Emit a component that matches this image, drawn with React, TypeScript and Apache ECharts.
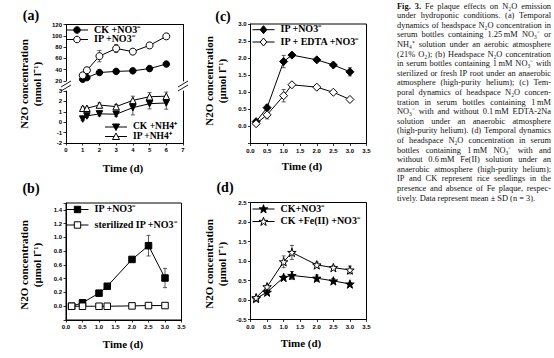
import React, { useEffect, useRef } from 'react';
import * as echarts from 'echarts';

// ---------- data ----------
const timeA = [1, 1.25, 2, 3, 4, 5, 6];
const ckNO3A = [23, 26, 35, 37, 38, 42, 50];
const ckNO3ASd = [2, 2, 2.5, 2, 2, 2, 2];
const ipNO3A = [30, 39, 64, 77.5, 72, 83, 99];
const ipNO3ASd = [3, 5, 10, 7, 5, 5, 5];
const ckNH4A = [0.3, 0.6, 0.8, 0.77, 1.4, 1.78, 1.85];
const ckNH4ASd = [0.15, 0.15, 0.2, 0.2, 0.7, 0.5, 0.6];
const ipNH4A = [1.34, 1.34, 1.65, 1.5, 2.1, 2.45, 2.5];
const ipNH4ASd = [0.15, 0.1, 0.2, 0.2, 0.4, 0.4, 0.4];

const timeBCD = [0.17, 0.5, 1, 1.25, 2, 2.5, 3];
const ipNO3B = [0.0, 0.05, 0.19, 0.29, 0.68, 0.88, 0.41];
const ipNO3BSd = [0.01, 0.02, 0.03, 0.03, 0.03, 0.15, 0.14];
const sterB = [0.0, 0.0, 0.0, 0.0, 0.005, 0.01, 0.01];
const sterBSd = [0.005, 0.005, 0.005, 0.005, 0.005, 0.005, 0.005];
const ipNO3C = [0.14, 0.55, 1.9, 2.09, 1.95, 1.8, 1.6];
const ipNO3CSd = [0.05, 0.08, 0.18, 0.06, 0.05, 0.05, 0.12];
const edtaC = [0.08, 0.34, 0.9, 1.22, 1.15, 1.0, 0.79];
const edtaCSd = [0.05, 0.12, 0.18, 0.05, 0.04, 0.04, 0.04];
const ckNO3D = [0.04, 0.2, 0.58, 0.63, 0.56, 0.49, 0.41];
const ckNO3DSd = [0.03, 0.04, 0.05, 0.1, 0.08, 0.06, 0.04];
const feD = [0.06, 0.34, 0.98, 1.22, 0.9, 0.83, 0.77];
const feDSd = [0.03, 0.04, 0.15, 0.18, 0.07, 0.05, 0.1];

const names = {
  ckNO3A: 'CK +NO3⁻',
  ipNO3A: 'IP +NO3⁻#a',
  ckNH4A: 'CK +NH4⁺',
  ipNH4A: 'IP +NH4⁺',
  ipNO3B: 'IP +NO3⁻#b',
  sterB: 'sterilized IP +NO3⁻',
  ipNO3C: 'IP +NO3⁻#c',
  edtaC: 'IP + EDTA +NO3⁻',
  ckNO3D: 'CK+NO3⁻',
  feD: 'CK +Fe(II) +NO3⁻',
};

const panelLabels = ['(a)', '(b)', '(c)', '(d)'];
const yTitleA = 'N2O concentration\n(nmol l⁻¹)';
const yTitleOther = 'N2O concentration\n(μmol l⁻¹)';
const xTitle = 'Time (d)';

const captionLines = [
  'Fig. 3. Fe plaque effects on N₂O emission',
  'under hydroponic conditions. (a) Temporal',
  'dynamics of headspace N₂O concentration in',
  'serum bottles containing 1.25\u2009mM NO₃⁻ or',
  'NH₄⁺ solution under an aerobic atmosphere',
  '(21% O₂); (b) Headspace N₂O concentration',
  'in serum bottles containing 1\u2009mM NO₃⁻ with',
  'sterilized or fresh IP root under an anaerobic',
  'atmosphere (high-purity helium); (c) Tem-',
  'poral dynamics of headspace N₂O concen-',
  'tration in serum bottles containing 1\u2009mM',
  'NO₃⁻ with and without 0.1\u2009mM EDTA-2Na',
  'solution under an anaerobic atmosphere',
  '(high-purity helium). (d) Temporal dynamics',
  'of headspace N₂O concentration in serum',
  'bottles containing 1\u2009mM NO₃⁻ with and',
  'without 0.6\u2009mM Fe(II) solution under an',
  'anaerobic atmosphere (high-purity helium);',
  'IP and CK represent rice seedlings in the',
  'presence and absence of Fe plaque, respec-',
  'tively. Data represent mean ± SD (n = 3).',
];

// ---------- styles ----------
const SERIF = '"Liberation Serif", "Times New Roman", serif';
const SANS = '"Liberation Sans", Arial, sans-serif';
const STAR = 'path://M50,0 L61.8,35.1 L98.1,35.1 L68.8,56.7 L79.4,91.3 L50,70 L20.6,91.3 L31.2,56.7 L1.9,35.1 L38.2,35.1 Z';
const STAR_PTS = [[50, 0], [61.8, 35.1], [98.1, 35.1], [68.8, 56.7], [79.4, 91.3], [50, 70], [20.6, 91.3], [31.2, 56.7], [1.9, 35.1], [38.2, 35.1]];

const CAP_X = 397;
const CAP_W = 154;
const CAP_Y = 6;
const CAP_LH = 9.6;
const CAP_FS = 8.4;

const LEG_W = 22;

function lineSeries(name: string, x: number[], y: number[], xi: number, yi: number, symbol: string, size: number, filled: boolean, rotate = 0) {
  return {
    type: 'line', name, xAxisIndex: xi, yAxisIndex: yi,
    data: x.map((t, i) => [t, y[i]]),
    symbol, symbolSize: size, symbolRotate: rotate, showAllSymbol: true,
    lineStyle: { color: '#000', width: 1 },
    itemStyle: filled ? { color: '#000', borderColor: '#000', borderWidth: 1 } : { color: '#fff', borderColor: '#000', borderWidth: 1 },
    z: 3, silent: true,
  };
}

function errSeries(x: number[], y: number[], sd: number[], xi: number, yi: number) {
  return {
    type: 'custom', xAxisIndex: xi, yAxisIndex: yi, z: 2, silent: true,
    data: x.map((t, i) => [t, y[i] - sd[i], y[i] + sd[i]]),
    encode: { x: 0, y: [1, 2] },
    renderItem: (params: any, api: any) => {
      const lo = api.coord([api.value(0), api.value(1)]);
      const hi = api.coord([api.value(0), api.value(2)]);
      const c = 2;
      const st = { stroke: '#333', lineWidth: 0.8 };
      return {
        type: 'group',
        children: [
          { type: 'line', shape: { x1: lo[0], y1: lo[1], x2: hi[0], y2: hi[1] }, style: st },
          { type: 'line', shape: { x1: lo[0] - c, y1: lo[1], x2: lo[0] + c, y2: lo[1] }, style: st },
          { type: 'line', shape: { x1: hi[0] - c, y1: hi[1], x2: hi[0] + c, y2: hi[1] }, style: st },
        ],
      };
    },
  };
}

const labelStyle = { fontSize: 6, fontWeight: 'bold', fontFamily: SANS, color: '#000', margin: 4 };
const tickStyle = { show: true, length: 2.5, lineStyle: { color: '#000', width: 0.8 } };

function xAxis(gridIndex: number, max: number, interval: number, fmt: (v: number) => string, opts: any = {}) {
  return {
    type: 'value', gridIndex, min: 0, max, interval,
    axisLine: { show: true, onZero: false, lineStyle: { color: '#000', width: 1 } },
    axisTick: tickStyle,
    axisLabel: { ...labelStyle, formatter: fmt },
    splitLine: { show: false },
    ...opts,
  };
}

function yAxis(gridIndex: number, min: number, max: number, interval: number, fmt: (v: number) => string, opts: any = {}) {
  return {
    type: 'value', gridIndex, min, max, interval,
    axisLine: { show: true, onZero: false, lineStyle: { color: '#000', width: 1 } },
    axisTick: tickStyle,
    axisLabel: { ...labelStyle, formatter: fmt },
    splitLine: { show: false },
    ...opts,
  };
}

function legendItem(name: string, left: number, cy: number, fs = 10) {
  return {
    show: true, data: [name], left, top: cy - fs * 0.6, orient: 'horizontal', padding: 0,
    itemWidth: LEG_W, itemHeight: 6, itemGap: 0, selectedMode: false,
    itemStyle: { opacity: 0 }, lineStyle: { opacity: 0 },
    textStyle: { fontFamily: SERIF, fontWeight: 'bold', fontSize: fs, color: '#000' },
    formatter: (n: string) => n.replace(/#[a-z]$/, ''),
  };
}

// legend key drawn as graphic (line + marker)
function legendKey(kind: string, filled: boolean, left: number, cy: number): any[] {
  const cx = left + LEG_W / 2;
  const st = { fill: filled ? '#000' : '#fff', stroke: '#000', lineWidth: 1 };
  const els: any[] = [{ type: 'line', silent: true, shape: { x1: left, y1: cy, x2: left + LEG_W, y2: cy }, style: { stroke: '#000', lineWidth: 1 } }];
  let m: any;
  if (kind === 'circle') m = { type: 'circle', shape: { cx, cy, r: 3.3 } };
  else if (kind === 'rect') m = { type: 'rect', shape: { x: cx - 3.2, y: cy - 3.2, width: 6.4, height: 6.4 } };
  else if (kind === 'tri') m = { type: 'polygon', shape: { points: [[cx, cy - 3.5], [cx + 3.5, cy + 3], [cx - 3.5, cy + 3]] } };
  else if (kind === 'triDown') m = { type: 'polygon', shape: { points: [[cx, cy + 3.5], [cx + 3.5, cy - 3], [cx - 3.5, cy - 3]] } };
  else if (kind === 'diamond') m = { type: 'polygon', shape: { points: [[cx, cy - 4], [cx + 3.3, cy], [cx, cy + 4], [cx - 3.3, cy]] } };
  else m = { type: 'polygon', shape: { points: STAR_PTS.map(([px, py]) => [cx - 4.5 + px * 0.09, cy - 4.3 + py * 0.09]) } };
  els.push({ ...m, silent: true, style: st, z: 10 });
  return els;
}

function buildCaption(): any[] {
  const els: any[] = [];
  const canvas = document.createElement('canvas');
  const ctx = canvas.getContext('2d')!;
  const fN = `${CAP_FS}px "Liberation Serif"`;
  const fB = `bold ${CAP_FS}px "Liberation Serif"`;
  captionLines.forEach((line, li) => {
    const words = line.split(' ');
    const last = li === captionLines.length - 1;
    const fonts = words.map((_, wi) => (li === 0 && wi < 2 ? fB : fN));
    const widths = words.map((w, i) => { ctx.font = fonts[i]; return ctx.measureText(w).width; });
    const total = widths.reduce((a, b) => a + b, 0);
    ctx.font = fN;
    const sp = ctx.measureText(' ').width;
    const gap = last || words.length < 2 ? sp : (CAP_W - total) / (words.length - 1);
    let x = CAP_X;
    words.forEach((w, i) => {
      els.push({
        type: 'text', x, y: CAP_Y + li * CAP_LH, silent: true,
        style: { text: w, font: fonts[i], fill: '#111', align: 'left', verticalAlign: 'middle' },
      });
      x += widths[i] + gap;
    });
  });
  return els;
}

function txt(text: string, x: number, y: number, size: number, rot = 0, lh = 0) {
  return {
    type: 'text', x, y, rotation: rot, silent: true,
    style: { text, font: `bold ${size}px ${SERIF}`, fill: '#000', align: 'center', verticalAlign: 'middle', lineHeight: lh || size * 1.2 },
  };
}

const fmtInt = (v: number) => String(Math.round(v));
const fmt1 = (v: number) => v.toFixed(1);

export default function App() {
  const ref = useRef<HTMLDivElement>(null);
  useEffect(() => {
    if (!ref.current) return;
    const chart = echarts.init(ref.current, undefined, { renderer: 'svg' });

    const grid = [
      { left: 66, top: 24.5, width: 117, height: 56.5, show: false },
      { left: 66, top: 91, width: 117, height: 52, show: false },
      { left: 66, top: 203, width: 115.5, height: 117, show: true, borderColor: '#000', borderWidth: 1 },
      { left: 250.5, top: 24, width: 116, height: 119.5, show: true, borderColor: '#000', borderWidth: 1 },
      { left: 250.5, top: 202.5, width: 116, height: 117, show: true, borderColor: '#000', borderWidth: 1 },
    ];

    const xAxes = [
      xAxis(0, 7, 1, fmtInt, { position: 'top', axisTick: { show: false }, axisLabel: { show: false } }),
      xAxis(1, 7, 1, fmtInt),
      xAxis(2, 3.5, 0.5, fmt1),
      xAxis(3, 3.5, 0.5, fmt1),
      xAxis(4, 3.5, 0.5, fmt1),
    ];

    const yAxes = [
      yAxis(0, 20, 120, 20, fmtInt),
      yAxis(1, -2, 3, 1, fmtInt),
      yAxis(2, -0.2, 1.5, 0.2, (v: number) => (v < -0.05 || v > 1.45 ? '' : v.toFixed(1))),
      yAxis(3, -0.5, 3.0, 0.5, (v: number) => (v < -0.05 ? '' : v.toFixed(1))),
      yAxis(4, -0.5, 2.5, 0.5, fmt1),
      yAxis(0, 20, 120, 20, fmtInt, { position: 'right', axisTick: { show: false }, axisLabel: { show: false } }),
      yAxis(1, -2, 3, 1, fmtInt, { position: 'right', axisTick: { show: false }, axisLabel: { show: false } }),
    ];

    const series = [
      errSeries(timeA, ckNO3A, ckNO3ASd, 0, 0),
      errSeries(timeA, ipNO3A, ipNO3ASd, 0, 0),
      lineSeries(names.ckNO3A, timeA, ckNO3A, 0, 0, 'circle', 6.5, true),
      lineSeries(names.ipNO3A, timeA, ipNO3A, 0, 0, 'circle', 7, false),
      errSeries(timeA, ckNH4A, ckNH4ASd, 1, 1),
      errSeries(timeA, ipNH4A, ipNH4ASd, 1, 1),
      lineSeries(names.ckNH4A, timeA, ckNH4A, 1, 1, 'triangle', 6.5, true, 180),
      lineSeries(names.ipNH4A, timeA, ipNH4A, 1, 1, 'triangle', 6.5, false),

      errSeries(timeBCD, ipNO3B, ipNO3BSd, 2, 2),
      errSeries(timeBCD, sterB, sterBSd, 2, 2),
      lineSeries(names.ipNO3B, timeBCD, ipNO3B, 2, 2, 'rect', 6.5, true),
      lineSeries(names.sterB, timeBCD, sterB, 2, 2, 'rect', 6.5, false),

      errSeries(timeBCD, ipNO3C, ipNO3CSd, 3, 3),
      errSeries(timeBCD, edtaC, edtaCSd, 3, 3),
      lineSeries(names.ipNO3C, timeBCD, ipNO3C, 3, 3, 'diamond', 8, true),
      lineSeries(names.edtaC, timeBCD, edtaC, 3, 3, 'diamond', 8, false),

      errSeries(timeBCD, ckNO3D, ckNO3DSd, 4, 4),
      errSeries(timeBCD, feD, feDSd, 4, 4),
      lineSeries(names.ckNO3D, timeBCD, ckNO3D, 4, 4, STAR, 8.5, true),
      lineSeries(names.feD, timeBCD, feD, 4, 4, STAR, 8.5, false),
    ];

    const legendDefs: [string, string, boolean, number, number, number][] = [
      [names.ckNO3A, 'circle', true, 66, 30, 10],
      [names.ipNO3A, 'circle', false, 66, 39.5, 10],
      [names.ckNH4A, 'triDown', true, 105, 127, 9.5],
      [names.ipNH4A, 'tri', false, 105, 136.5, 9.5],
      [names.ipNO3B, 'rect', true, 66.5, 209.5, 10],
      [names.sterB, 'rect', false, 66.5, 225, 10],
      [names.ipNO3C, 'diamond', true, 252.5, 29.7, 10],
      [names.edtaC, 'diamond', false, 252.5, 42, 10],
      [names.ckNO3D, 'star', true, 252.5, 209, 10],
      [names.feD, 'star', false, 252.5, 221.5, 10],
    ];
    const legend = legendDefs.map(([n, , , l, cy, fs]) => legendItem(n, l, cy, fs));
    const legendKeys = legendDefs.flatMap(([, k, f, l, cy]) => legendKey(k, f, l, cy));

    const brk = (x: number, y: number) => ({
      type: 'line', silent: true,
      shape: { x1: x - 5, y1: y + 3, x2: x + 5, y2: y - 3 },
      style: { stroke: '#000', lineWidth: 0.9 },
    });

    const graphic = [
      txt(panelLabels[0], 31, 15, 14),
      txt(panelLabels[1], 31, 188, 14),
      txt(panelLabels[2], 223, 16, 14),
      txt(panelLabels[3], 225, 187, 14),
      txt(yTitleA, 30.5, 84, 11, Math.PI / 2, 13),
      txt(yTitleOther, 30.5, 265, 11, Math.PI / 2, 13),
      txt(yTitleOther, 215.5, 81, 11, Math.PI / 2, 13),
      txt(yTitleOther, 215.5, 264, 11, Math.PI / 2, 13),
      txt(xTitle, 123, 168, 11),
      txt(xTitle, 123, 343.5, 11),
      txt(xTitle, 302, 166, 11),
      txt(xTitle, 301, 343, 11),
      brk(66, 84), brk(66, 88),
      brk(183, 84), brk(183, 88),
      ...legendKeys,
      ...buildCaption(),
    ];

    chart.setOption({
      animation: false,
      backgroundColor: '#fff',
      grid, xAxis: xAxes, yAxis: yAxes, series, legend, graphic,
    });
    return () => chart.dispose();
  }, []);
  return <div ref={ref} style={{ position: 'absolute', left: 0, top: 0, width: 554, height: 358 }} />;
}
